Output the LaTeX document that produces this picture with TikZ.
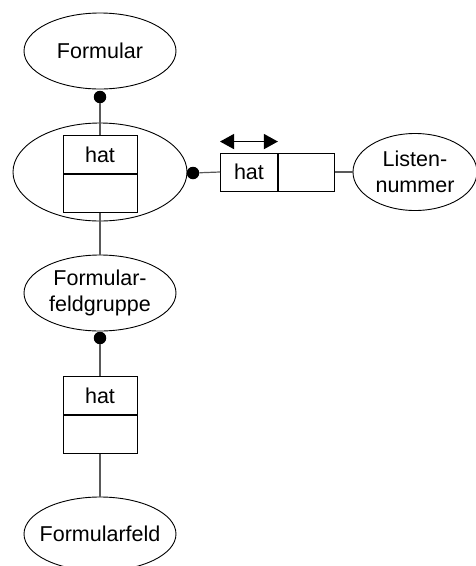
\documentclass[tikz,border=0pt]{standalone}
\usepackage{fontspec}
\setmainfont{Liberation Sans}
\usetikzlibrary{arrows.meta,shapes.geometric}
\begin{document}
\begin{tikzpicture}[x=1pt,y=-1pt,
  ell/.style={draw=black,line width=0.9pt,ellipse,fill=white,inner xsep=-20pt,inner ysep=-6pt,align=center,font=\fontsize{21.5}{26.5}\selectfont},
  cell/.style={draw=black,line width=0.9pt,rectangle,fill=white,inner sep=0pt,minimum width=74pt,minimum height=38pt,font=\fontsize{21.5}{26.5}\selectfont},
  hcell/.style={cell,minimum width=57pt},
  dot/.style={circle,fill=black,inner sep=0pt,minimum size=12.5pt},
  conn/.style={draw=black!65,line width=1.2pt}]
\useasboundingbox (0,0) rectangle (476,566);
\begin{scope}
\clip (0,0) rectangle (476,566);
% top ellipse
\node[ell,minimum width=152pt,minimum height=76pt] (formular) at (100,51) {Formular};
\node[dot] (d1) at (100,97) {};
% big ellipse with relation box
\node[ell,minimum width=174pt,minimum height=98pt] (big) at (100,172) {};
\draw[conn] (d1) -- (100,135);
\node[cell,anchor=north] (h1) at (100,135) {hat};
\node[cell,anchor=north] (h1b) at (h1.south) {};
% right part
\node[dot] (d2) at (193,173) {};
\node[hcell,minimum width=57pt,anchor=west] (h2) at (220,172) {hat};
\node[hcell,minimum width=56pt,anchor=west] (h2b) at (h2.east) {};
\node[ell,minimum width=124pt,minimum height=77pt] (liste) at (415,172) {Listen-\\nummer};
\draw[conn] (d2) -- (h2.west);
\draw[conn] (h2b.east) -- (liste.west);
\coordinate (al) at ([yshift=11pt]h2.north west);
\coordinate (ar) at ([yshift=11pt]h2.north east);
\draw[line width=1.5pt,{Triangle[length=14pt,width=15pt]}-{Triangle[length=14pt,width=15pt]}] (al) -- (ar);
% lower part
\node[ell,minimum width=152pt,minimum height=76pt] (gruppe) at (100,293) {Formular-\\feldgruppe};
\draw[conn] (h1b.south) -- (gruppe.north);
\node[dot] (d3) at (100,338) {};
\node[cell,anchor=north] (h3) at (100,376) {hat};
\node[cell,anchor=north] (h3b) at (h3.south) {};
\draw[conn] (d3) -- (h3.north);
\node[ell,minimum width=152pt,minimum height=74pt] (feld) at (100,534) {Formularfeld};
\draw[conn] (h3b.south) -- (feld.north);
\end{scope}
\end{tikzpicture}
\end{document}
